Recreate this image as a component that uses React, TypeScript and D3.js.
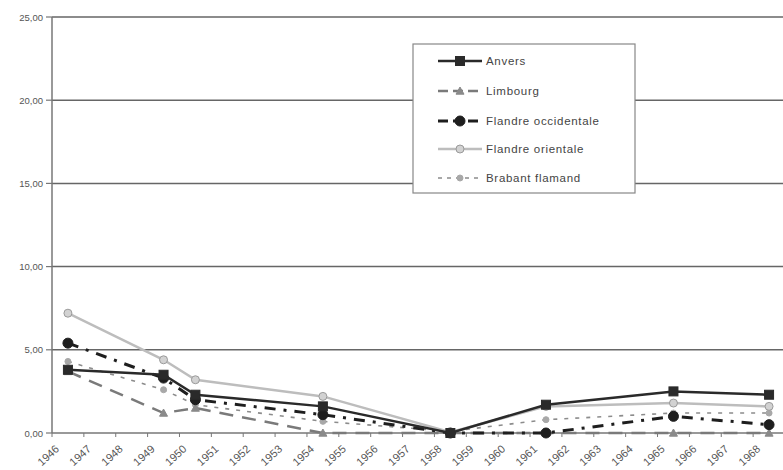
import React from "react";
import * as d3 from "d3";

const years: number[] = d3.range(1946, 1969);
const yTicks: number[] = [0, 5, 10, 15, 20, 25];

const dataYears: number[] = [1946, 1949, 1950, 1954, 1958, 1961, 1965, 1968];
const anvers: number[] = [3.8, 3.5, 2.3, 1.6, 0.0, 1.7, 2.5, 2.3];
const limbourg: number[] = [3.7, 1.2, 1.5, 0.0, 0.0, 0.0, 0.0, 0.0];
const flandreOcc: number[] = [5.4, 3.3, 2.0, 1.1, 0.0, 0.0, 1.0, 0.5];
const flandreOr: number[] = [7.2, 4.4, 3.2, 2.2, 0.05, 1.6, 1.8, 1.6];
const brabant: number[] = [4.3, 2.6, 1.7, 0.7, 0.1, 0.8, 1.2, 1.2];

const seriesNames: string[] = ["Anvers", "Limbourg", "Flandre occidentale", "Flandre orientale", "Brabant flamand"];

type Style = { stroke: string; width: number; dash: string; marker: string; fill: string; mstroke: string; size: number };
const styles: Style[] = [
  { stroke: "#2a2a2a", width: 2.5, dash: "", marker: "square", fill: "#2a2a2a", mstroke: "#2a2a2a", size: 9 },
  { stroke: "#7a7a7a", width: 2.5, dash: "14,9", marker: "triangle", fill: "#8a8a8a", mstroke: "#8a8a8a", size: 8 },
  { stroke: "#1e1e1e", width: 3, dash: "11,8,3,8", marker: "circle", fill: "#1e1e1e", mstroke: "#1e1e1e", size: 10 },
  { stroke: "#bdbdbd", width: 2.5, dash: "", marker: "circle", fill: "#d2d2d2", mstroke: "#9a9a9a", size: 8 },
  { stroke: "#8c8c8c", width: 1.6, dash: "4,7", marker: "circle", fill: "#a8a8a8", mstroke: "#a8a8a8", size: 6 },
];

const allSeries: number[][] = [anvers, limbourg, flandreOcc, flandreOr, brabant];

const left = 52;
const right = 785;
const top = 17;
const bottom = 433;

const x = d3.scaleBand<number>().domain(years).range([left, right]);
const y = d3.scaleLinear().domain([0, 25]).range([bottom, top]);

function Marker({ kind, cx, cy, s }: { kind: string; cx: number; cy: number; s: Style }) {
  const r = s.size / 2;
  if (kind === "square") {
    return <rect x={cx - r} y={cy - r} width={s.size} height={s.size} fill={s.fill} stroke={s.mstroke} strokeWidth={1} />;
  }
  if (kind === "triangle") {
    const p = `${cx},${cy - r} ${cx + r},${cy + r * 0.8} ${cx - r},${cy + r * 0.8}`;
    return <polygon points={p} fill={s.fill} stroke={s.mstroke} strokeWidth={1} />;
  }
  return <circle cx={cx} cy={cy} r={r} fill={s.fill} stroke={s.mstroke} strokeWidth={1} />;
}

export default function App() {
  const cx = (yr: number) => (x(yr) as number) + x.bandwidth() / 2;
  const line = d3
    .line<[number, number]>()
    .x((d) => cx(d[0]))
    .y((d) => y(d[1]));

  const order = [4, 1, 2, 3, 0];
  const legendX = 413;
  const legendY = 44;
  const legendRows = [61, 91, 121, 149, 178];

  return (
    <svg
      width={783}
      height={470}
      style={{ position: "absolute", left: 0, top: 0, background: "#fff" }}
      fontFamily="Liberation Sans, Arial, sans-serif"
    >
      {yTicks.map((t) => (
        <g key={t}>
          <line x1={left} x2={right} y1={y(t)} y2={y(t)} stroke={t === 0 ? "#777" : "#666"} strokeWidth={1.5} />
          <line x1={left - 6} x2={left} y1={y(t)} y2={y(t)} stroke="#777" strokeWidth={1.2} />
          <text x={43} y={y(t) + 3.5} textAnchor="end" fontSize={9.5} fill="#555">
            {d3.format(".2f")(t).replace(".", ",")}
          </text>
        </g>
      ))}
      <line x1={left} x2={left} y1={top} y2={bottom} stroke="#777" strokeWidth={1.5} />
      {years.map((yr) => (
        <line key={"t" + yr} x1={x(yr) as number} x2={x(yr) as number} y1={bottom} y2={bottom + 4} stroke="#777" strokeWidth={1} />
      ))}
      {years.map((yr) => {
        const px = cx(yr) - 8;
        const py = bottom + 17;
        return (
          <text key={"l" + yr} x={px} y={py} textAnchor="end" fontSize={11} fill="#555" transform={`rotate(-42 ${px} ${py})`}>
            {yr}
          </text>
        );
      })}
      {order.map((i) => {
        const s = styles[i];
        const pts: [number, number][] = dataYears.map((yr, k) => [yr, allSeries[i][k]]);
        return (
          <g key={"s" + i}>
            <path d={line(pts) || ""} fill="none" stroke={s.stroke} strokeWidth={s.width} strokeDasharray={s.dash} />
            {pts.map((p, k) => (
              <Marker key={k} kind={s.marker} cx={cx(p[0])} cy={y(p[1])} s={s} />
            ))}
          </g>
        );
      })}
      <rect x={legendX} y={legendY} width={222} height={149} fill="#fff" stroke="#888" strokeWidth={1.2} />
      {seriesNames.map((name, i) => {
        const s = styles[i];
        const ly = legendRows[i];
        return (
          <g key={"lg" + i}>
            <line x1={438} x2={482} y1={ly} y2={ly} stroke={s.stroke} strokeWidth={s.width} strokeDasharray={s.dash ? (i === 4 ? "4,5" : "10,5") : ""} />
            <Marker kind={s.marker} cx={460} cy={ly} s={s} />
            <text x={486} y={ly + 4} fontSize={11.5} fill="#444" letterSpacing={0.7}>
              {name}
            </text>
          </g>
        );
      })}
    </svg>
  );
}
